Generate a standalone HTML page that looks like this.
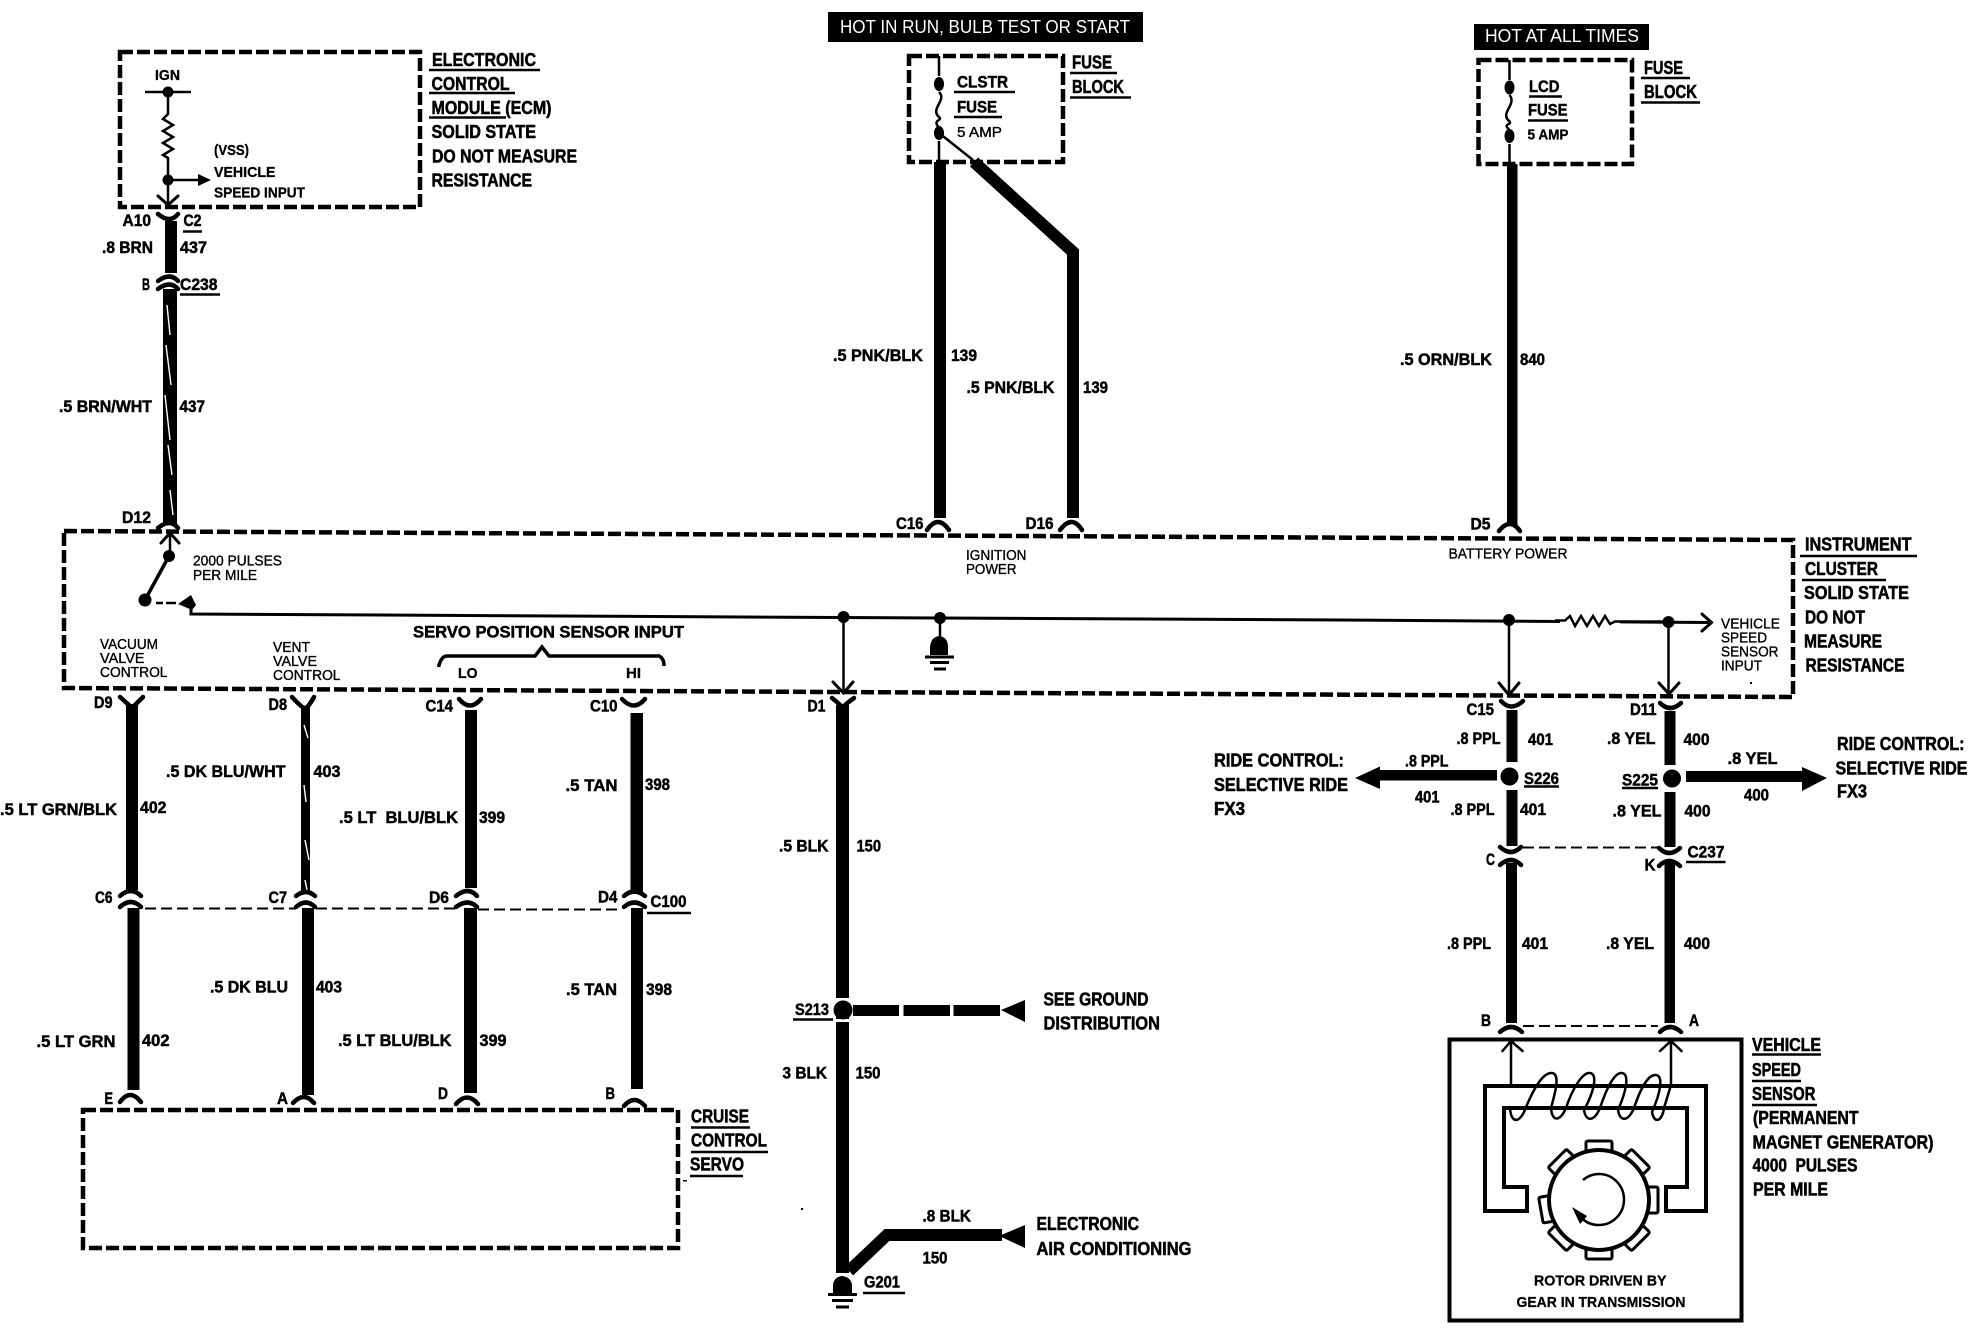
<!DOCTYPE html>
<html>
<head>
<meta charset="utf-8">
<title>Wiring diagram</title>
<style>
html,body{margin:0;padding:0;background:#fff;width:1970px;height:1328px;overflow:hidden}
svg{display:block}
text{font-family:"Liberation Sans",sans-serif;fill:#000}
.t{font-weight:bold;font-size:18.5px;stroke:#000;stroke-width:.55}
.w{font-weight:bold;font-size:17px;stroke:#000;stroke-width:.5}
.s{font-weight:bold;font-size:15px;stroke:#000;stroke-width:.3}
.n{font-size:14.5px;stroke:#000;stroke-width:.35}
.h{font-size:18px;fill:#fff}
.l{fill:none;stroke:#000;stroke-width:2.5}
.c{fill:none;stroke:#000;stroke-width:4.5;stroke-linecap:round}
.u{fill:none;stroke:#000;stroke-width:2.5}
.d{fill:none;stroke:#000;stroke-width:4.5;stroke-dasharray:13 4}
.e{fill:none;stroke:#000;stroke-width:2;stroke-dasharray:11 5}
.k{fill:#000}
.g{fill:none;stroke:#fff;stroke-width:1.4}
</style>
</head>
<body>
<svg xmlns="http://www.w3.org/2000/svg" width="1970" height="1328" viewBox="0 0 1970 1328">
<rect width="1970" height="1328" fill="#fff"/>

<!-- dashed boxes -->
<rect class="d" x="120" y="52" width="300" height="155"/>
<path class="d" d="M64 531 L1793 540 L1793 697 L64 688 Z"/>
<rect class="d" x="909" y="56" width="154" height="106"/>
<rect class="d" x="1478.500" y="60" width="153.500" height="104"/>
<rect class="d" x="83" y="1110" width="595" height="138"/>

<!-- black header boxes -->
<rect class="k" x="828" y="12" width="315" height="30"/>
<text class="h" x="840" y="33" textLength="290" lengthAdjust="spacingAndGlyphs">HOT IN RUN, BULB TEST OR START</text>
<rect class="k" x="1474" y="24" width="175" height="26"/>
<text class="h" x="1485" y="42" textLength="154" lengthAdjust="spacingAndGlyphs">HOT AT ALL TIMES</text>

<!-- ECM internals -->
<path class="l" d="M145 92H191M168 92V114L163 119L173 125L163 131L173 137L163 143L173 149L163 155L168 158V205"/>
<circle class="k" cx="168" cy="92" r="5.500"/>
<circle class="k" cx="168" cy="180" r="5.500"/>
<path class="l" d="M168 180H200"/>
<path class="k" d="M198 174L211 180L198 186Z"/>
<path class="c" style="stroke-width:3" d="M158 196L168 205L178 196"/>

<!-- ECM wire -->
<path class="c" d="M158 214Q170 224 178 214"/>
<rect class="k" x="165" y="221" width="12" height="52"/>
<path class="c" d="M158 281Q170 272 178 281M158 289Q170 280 178 289"/>
<rect class="k" x="163" y="289" width="14" height="236"/>
<path class="g" d="M167 305L170 335M166 345L171 385M165 395L170 440M168 445L172 475M170 490L173 515"/>
<path class="c" d="M158 528Q170 518 178 528"/>
<path class="c" style="stroke-width:3" d="M161 543L170 533L179 543"/>

<!-- switch -->
<path class="l" d="M170 533V556"/>
<circle class="k" cx="169" cy="556" r="6"/>
<path d="M169 556L145 600" stroke="#000" stroke-width="3.500"/>
<circle class="k" cx="145" cy="600" r="6.500"/>
<path d="M156 603H163M166 603H176" stroke="#000" stroke-width="2.500"/>
<path class="k" d="M178 604L191 595L196 605L192 610Z"/>
<path d="M191 604V614L840 617.500L1340 620L1712 622.500" fill="none" stroke="#000" stroke-width="3"/>

<!-- cluster internals -->
<circle class="k" cx="843.500" cy="617" r="6"/>
<path class="l" d="M843.500 617V692"/>
<path class="c" style="stroke-width:3" d="M833 682L843.500 693L853 682"/>
<circle class="k" cx="940" cy="618" r="6"/>
<path class="l" d="M940 618V640"/>
<path class="k" d="M930 655V647Q931 637 939 636Q948 637 948 647V655Z"/>
<path d="M925 657H954M930 662.500H949M934 669H946" stroke="#000" stroke-width="3"/>
<circle class="k" cx="1509" cy="620" r="6"/>
<path class="l" d="M1509 620V694"/>
<path class="c" style="stroke-width:3" d="M1499 683L1509 695L1519 683"/>
<path fill="#fff" d="M1560 612h60v16h-60z"/>
<path class="l" d="M1555 620.500H1565L1570 616L1575 626L1581 616L1587 626L1593 616L1599 626L1605 616L1610 624L1615 621.500H1668"/>
<circle class="k" cx="1668.500" cy="622" r="6"/>
<path class="l" d="M1668.500 622V693"/>
<path class="c" style="stroke-width:3" d="M1659 683L1669 694L1679 683"/>
<path class="c" style="stroke-width:3" d="M1702 614L1711.500 622.500L1702 631"/>

<!-- brace -->
<path d="M438.500 667Q441 657 446 656H535L542 647L549 656H659Q664 658 664 666" fill="none" stroke="#000" stroke-width="3.500"/>

<!-- fuses -->
<path class="l" d="M939 56V76M939 92C947 100 931 108 938 116C945 122 931 118 939 128M939 141V162"/>
<ellipse class="k" cx="939" cy="84" rx="5" ry="7"/>
<ellipse class="k" cx="939" cy="133" rx="5" ry="7"/>
<path class="l" d="M939 133L973 160"/>
<rect class="k" x="934" y="162" width="12" height="356"/>
<path d="M974 162L1073 252V518" fill="none" stroke="#000" stroke-width="12"/>
<path class="c" d="M927 530Q938 514 949 530M1060 530Q1072 514 1082 530"/>

<path class="l" d="M1509.500 60V80M1509.500 95C1517 104 1501 112 1508 120C1515 126 1501 122 1509.500 130M1509.500 144V164"/>
<ellipse class="k" cx="1509.500" cy="87.500" rx="5" ry="7"/>
<ellipse class="k" cx="1509.500" cy="136" rx="5" ry="7"/>
<rect class="k" x="1507" y="164" width="10.500" height="361"/>
<path class="c" d="M1499 531Q1510 517 1520 531"/>

<!-- left lower wires -->
<path class="c" d="M120 697Q130 706 132 708Q134 706 143 697"/><rect class="k" x="126" y="704" width="12" height="186"/>
<path class="c" d="M292 697Q302 708 305 708Q308 708 314 697"/><rect class="k" x="301" y="706" width="9" height="186"/>
<path class="g" d="M304 725L308 738M304 785L306 802M305 840L309 860M305 880L309 900"/>
<path class="c" d="M459 699Q470 712 481 699"/><rect class="k" x="465" y="710" width="12" height="178"/>
<path class="c" d="M622 699Q634 712 645 699"/><rect class="k" x="630.500" y="713" width="12.500" height="180"/>

<path class="c" d="M120 896Q131 886 141 896M120 907Q131 897 141 907"/>
<path class="c" d="M296 896Q306 888 315 896M296 907Q306 898 315 907"/>
<path class="c" d="M456 896Q468 886 477 896M456 907Q468 898 477 907"/>
<path class="c" d="M624 896Q634 887 645 896M624 907Q634 898 645 907"/>
<path class="e" d="M145 908.500H296M316 908.500H456M478 909.500H622"/>

<rect class="k" x="127.500" y="908" width="12" height="182"/>
<rect class="k" x="302" y="908" width="12" height="187"/>
<rect class="k" x="464" y="908" width="13" height="185"/>
<rect class="k" x="631" y="908" width="12" height="181"/>

<path class="c" d="M120 1102Q130 1088 141 1102M293 1103Q304 1091 314 1103M456 1104Q467 1091 478 1104M624 1106Q634 1094 645 1106"/>

<!-- D1 wire -->
<path class="c" d="M832 698Q842 706 842.500 708Q843 706 854 698"/>
<rect class="k" x="836" y="705" width="13" height="568"/>
<rect x="830" y="998" width="25" height="6" fill="#fff"/>
<rect x="830" y="1019" width="25" height="3" fill="#fff"/>
<circle class="k" cx="843" cy="1010" r="9.500"/>
<rect class="k" x="853" y="1005" width="46" height="11"/>
<rect class="k" x="903.500" y="1005" width="46.500" height="11"/>
<rect class="k" x="953.500" y="1005" width="46.500" height="11"/>
<path class="k" d="M1001 1010L1025 1000V1022Z"/>
<path d="M849 1271L887 1235H1002" fill="none" stroke="#000" stroke-width="12"/>
<path class="k" d="M999 1236L1025 1225V1248Z"/>
<path class="k" d="M833 1293V1285Q834 1277 842 1276Q851 1277 852 1285V1293Z"/>
<path d="M828 1294.500H857M832 1300.500H853M836 1307H849" stroke="#000" stroke-width="3"/>

<!-- right wires -->
<path class="c" d="M1501 701Q1511 712 1523 701"/>
<rect class="k" x="1506.500" y="710" width="11" height="52"/>
<path class="c" d="M1660 703Q1670 713 1681 703"/>
<rect class="k" x="1664.500" y="711" width="11" height="54"/>
<circle class="k" cx="1509.500" cy="776.500" r="9"/>
<circle class="k" cx="1672" cy="778.500" r="9"/>
<rect class="k" x="1380" y="770" width="117" height="10.500"/>
<path class="k" d="M1355 778L1380 766.500V789Z"/>
<rect class="k" x="1686" y="771" width="116" height="11"/>
<path class="k" d="M1802 767L1827 778L1802 791Z"/>
<rect class="k" x="1506.500" y="790" width="11" height="56"/>
<rect class="k" x="1664.500" y="792" width="11" height="55"/>
<path class="c" d="M1500 847Q1511 857 1521 847M1500 865Q1511 855 1521 865"/>
<path class="c" d="M1659 848Q1669 858 1680 848M1659 866Q1669 856 1680 866"/>
<path class="e" d="M1523 847.500H1657"/>
<rect class="k" x="1506" y="863" width="11" height="160"/>
<rect class="k" x="1664.500" y="863" width="10.500" height="160"/>
<path class="c" d="M1500 1032Q1511 1022 1522 1032M1660 1032Q1670 1022 1681 1032"/>
<path class="e" d="M1523 1026H1658"/>

<!-- sensor -->
<rect x="1449.500" y="1039.500" width="292" height="281" fill="none" stroke="#000" stroke-width="4"/>
<path class="l" d="M1511 1086V1041M1671 1086V1041"/>
<path class="c" style="stroke-width:2.500" d="M1502.500 1051L1511 1041L1522.500 1051M1660 1051L1671 1041L1681.500 1051"/>
<path d="M1504 1187H1527V1211H1485V1086H1706V1211H1666V1187H1687V1108H1504Z" fill="none" stroke="#000" stroke-width="4"/>
<path class="l" d="M1510 1108C1511 1122 1518 1124 1524 1112C1532 1092 1542 1072 1552 1073C1560 1074 1556 1090 1551 1108C1552 1122 1560 1122 1566 1108C1572 1090 1582 1072 1590 1073C1598 1074 1594 1092 1584 1110C1586 1122 1594 1122 1600 1108C1606 1090 1614 1072 1622 1073C1630 1074 1626 1092 1618 1110C1620 1122 1628 1122 1634 1108C1640 1090 1648 1074 1656 1075C1664 1076 1660 1094 1652 1112C1654 1124 1662 1122 1664 1108L1671 1085"/>
<g fill="none" stroke="#000" stroke-width="3">
<circle cx="1599" cy="1200" r="50" stroke-width="4"/>
<path d="M1586 1150V1143Q1586 1141 1588 1141H1610Q1612 1141 1612 1143V1150"/>
<path d="M1586 1150V1143Q1586 1141 1588 1141H1610Q1612 1141 1612 1143V1150" transform="rotate(45 1599 1200)"/>
<path d="M1586 1150V1143Q1586 1141 1588 1141H1610Q1612 1141 1612 1143V1150" transform="rotate(90 1599 1200)"/>
<path d="M1586 1150V1143Q1586 1141 1588 1141H1610Q1612 1141 1612 1143V1150" transform="rotate(135 1599 1200)"/>
<path d="M1586 1150V1143Q1586 1141 1588 1141H1610Q1612 1141 1612 1143V1150" transform="rotate(180 1599 1200)"/>
<path d="M1586 1150V1143Q1586 1141 1588 1141H1610Q1612 1141 1612 1143V1150" transform="rotate(225 1599 1200)"/>
<path d="M1586 1150V1143Q1586 1141 1588 1141H1610Q1612 1141 1612 1143V1150" transform="rotate(260 1599 1200)"/>
<path d="M1586 1150V1143Q1586 1141 1588 1141H1610Q1612 1141 1612 1143V1150" transform="rotate(315 1599 1200)"/>
<path stroke-width="2.500" d="M1583 1180Q1590 1174 1599 1174A25 25.500 0 1 1 1599 1225Q1588 1225 1582 1218"/>
</g>
<path class="k" d="M1572 1207L1587 1216L1580 1224Z"/>

<!-- specks -->
<rect class="k" x="801" y="1208" width="2" height="2"/>
<rect class="k" x="1750" y="682" width="2" height="2"/>
<rect class="k" x="683" y="1180" width="4" height="1.500"/>

<!-- ECM labels -->
<text class="t" x="432" y="66" textLength="104" lengthAdjust="spacingAndGlyphs">ELECTRONIC</text>
<path class="u" d="M429 70H540"/>
<text class="t" x="431.500" y="90" textLength="78" lengthAdjust="spacingAndGlyphs">CONTROL</text>
<path class="u" d="M429 93H515"/>
<text class="t" x="431.500" y="114" textLength="120" lengthAdjust="spacingAndGlyphs">MODULE (ECM)</text>
<path class="u" d="M429 117.500H506"/>
<text class="t" x="431.500" y="138" textLength="104.500" lengthAdjust="spacingAndGlyphs">SOLID STATE</text>
<text class="t" x="432" y="162.500" textLength="145" lengthAdjust="spacingAndGlyphs">DO NOT MEASURE</text>
<text class="t" x="431.500" y="186.500" textLength="100.500" lengthAdjust="spacingAndGlyphs">RESISTANCE</text>
<text class="s" x="155" y="80" textLength="25" lengthAdjust="spacingAndGlyphs">IGN</text>
<text class="s" x="214" y="155" textLength="35" lengthAdjust="spacingAndGlyphs">(VSS)</text>
<text class="s" x="214" y="177" textLength="61.500" lengthAdjust="spacingAndGlyphs">VEHICLE</text>
<text class="s" x="214" y="197.500" textLength="91" lengthAdjust="spacingAndGlyphs">SPEED INPUT</text>
<text class="w" x="122.500" y="226" textLength="28.500" lengthAdjust="spacingAndGlyphs">A10</text>
<text class="w" x="183.500" y="226" textLength="18" lengthAdjust="spacingAndGlyphs">C2</text>
<path class="u" d="M183 231.500H202"/>
<text class="w" x="102" y="253" textLength="51" lengthAdjust="spacingAndGlyphs">.8 BRN</text>
<text class="w" x="180" y="253" textLength="27" lengthAdjust="spacingAndGlyphs">437</text>
<text class="w" x="142" y="290" textLength="8" lengthAdjust="spacingAndGlyphs">B</text>
<text class="w" x="180" y="290" textLength="37.500" lengthAdjust="spacingAndGlyphs">C238</text>
<path class="u" d="M180 294.500H220"/>
<text class="w" x="59" y="412" textLength="93" lengthAdjust="spacingAndGlyphs">.5 BRN/WHT</text>
<text class="w" x="179.500" y="412" textLength="25.500" lengthAdjust="spacingAndGlyphs">437</text>
<text class="w" x="122" y="523" textLength="29" lengthAdjust="spacingAndGlyphs">D12</text>

<!-- fuse labels -->
<text class="w" x="957" y="87.500" textLength="51" lengthAdjust="spacingAndGlyphs">CLSTR</text>
<path class="u" d="M954 92H1015"/>
<text class="w" x="957" y="112.500" textLength="40" lengthAdjust="spacingAndGlyphs">FUSE</text>
<path class="u" d="M954 117H1002"/>
<text class="n" x="957" y="137" textLength="45" lengthAdjust="spacingAndGlyphs">5 AMP</text>
<text class="t" x="1072" y="68.500" textLength="40" lengthAdjust="spacingAndGlyphs">FUSE</text>
<path class="u" d="M1070 73H1117"/>
<text class="t" x="1072" y="93" textLength="52" lengthAdjust="spacingAndGlyphs">BLOCK</text>
<path class="u" d="M1070 97.500H1131"/>
<text class="w" x="833" y="361" textLength="90" lengthAdjust="spacingAndGlyphs">.5 PNK/BLK</text>
<text class="w" x="951" y="361" textLength="26" lengthAdjust="spacingAndGlyphs">139</text>
<text class="w" x="966.500" y="393" textLength="88" lengthAdjust="spacingAndGlyphs">.5 PNK/BLK</text>
<text class="w" x="1083" y="393" textLength="25" lengthAdjust="spacingAndGlyphs">139</text>
<text class="w" x="896" y="529" textLength="27.500" lengthAdjust="spacingAndGlyphs">C16</text>
<text class="w" x="1025.500" y="529" textLength="28" lengthAdjust="spacingAndGlyphs">D16</text>
<text class="w" x="1470.500" y="529.500" textLength="20" lengthAdjust="spacingAndGlyphs">D5</text>
<text class="w" x="1529" y="92" textLength="30.500" lengthAdjust="spacingAndGlyphs">LCD</text>
<path class="u" d="M1529 96.500H1562"/>
<text class="w" x="1528" y="115.500" textLength="39.500" lengthAdjust="spacingAndGlyphs">FUSE</text>
<path class="u" d="M1528 120.500H1568"/>
<text class="s" x="1527.500" y="139.500" textLength="41" lengthAdjust="spacingAndGlyphs">5 AMP</text>
<text class="t" x="1644" y="74" textLength="39" lengthAdjust="spacingAndGlyphs">FUSE</text>
<path class="u" d="M1641 78H1690"/>
<text class="t" x="1644" y="98" textLength="53" lengthAdjust="spacingAndGlyphs">BLOCK</text>
<path class="u" d="M1641 102.500H1700"/>
<text class="w" x="1400" y="365" textLength="92" lengthAdjust="spacingAndGlyphs">.5 ORN/BLK</text>
<text class="w" x="1520" y="365" textLength="25" lengthAdjust="spacingAndGlyphs">840</text>

<!-- cluster labels -->
<text class="n" x="193" y="565.500" textLength="89" lengthAdjust="spacingAndGlyphs">2000 PULSES</text>
<text class="n" x="193" y="580" textLength="64" lengthAdjust="spacingAndGlyphs">PER MILE</text>
<text class="n" x="100" y="649" textLength="58" lengthAdjust="spacingAndGlyphs">VACUUM</text>
<text class="n" x="100" y="663" textLength="44.500" lengthAdjust="spacingAndGlyphs">VALVE</text>
<text class="n" x="100" y="677" textLength="67.500" lengthAdjust="spacingAndGlyphs">CONTROL</text>
<text class="n" x="273" y="652" textLength="37" lengthAdjust="spacingAndGlyphs">VENT</text>
<text class="n" x="273" y="666" textLength="44" lengthAdjust="spacingAndGlyphs">VALVE</text>
<text class="n" x="273" y="680" textLength="67.500" lengthAdjust="spacingAndGlyphs">CONTROL</text>
<text class="w" x="413" y="637.500" textLength="271" lengthAdjust="spacingAndGlyphs">SERVO POSITION SENSOR INPUT</text>
<text class="s" x="458" y="678" textLength="19.500" lengthAdjust="spacingAndGlyphs">LO</text>
<text class="s" x="626" y="678" textLength="15" lengthAdjust="spacingAndGlyphs">HI</text>
<text class="n" x="966" y="560" textLength="60.500" lengthAdjust="spacingAndGlyphs">IGNITION</text>
<text class="n" x="966" y="574" textLength="50.500" lengthAdjust="spacingAndGlyphs">POWER</text>
<text class="n" x="1448.500" y="558.500" textLength="119" lengthAdjust="spacingAndGlyphs">BATTERY POWER</text>
<text class="n" x="1721" y="628.500" textLength="59" lengthAdjust="spacingAndGlyphs">VEHICLE</text>
<text class="n" x="1721" y="642.500" textLength="46" lengthAdjust="spacingAndGlyphs">SPEED</text>
<text class="n" x="1721" y="656.500" textLength="57.500" lengthAdjust="spacingAndGlyphs">SENSOR</text>
<text class="n" x="1721" y="670.500" textLength="41" lengthAdjust="spacingAndGlyphs">INPUT</text>
<text class="t" x="1805" y="550.500" textLength="106.500" lengthAdjust="spacingAndGlyphs">INSTRUMENT</text>
<path class="u" d="M1800 556H1917"/>
<text class="t" x="1805" y="575" textLength="73" lengthAdjust="spacingAndGlyphs">CLUSTER</text>
<path class="u" d="M1802 580H1886"/>
<text class="t" x="1804" y="599" textLength="105" lengthAdjust="spacingAndGlyphs">SOLID STATE</text>
<text class="t" x="1805" y="623.500" textLength="60" lengthAdjust="spacingAndGlyphs">DO NOT</text>
<text class="t" x="1804" y="647.500" textLength="78" lengthAdjust="spacingAndGlyphs">MEASURE</text>
<text class="t" x="1805.500" y="671.500" textLength="99" lengthAdjust="spacingAndGlyphs">RESISTANCE</text>

<!-- connectors labels -->
<text class="w" x="94" y="708" textLength="18.500" lengthAdjust="spacingAndGlyphs">D9</text>
<text class="w" x="268.500" y="710" textLength="18.500" lengthAdjust="spacingAndGlyphs">D8</text>
<text class="w" x="425.500" y="711.500" textLength="27.500" lengthAdjust="spacingAndGlyphs">C14</text>
<text class="w" x="590" y="711.500" textLength="27.500" lengthAdjust="spacingAndGlyphs">C10</text>
<text class="w" x="807.500" y="711.500" textLength="18" lengthAdjust="spacingAndGlyphs">D1</text>
<text class="w" x="1466.500" y="715" textLength="27.500" lengthAdjust="spacingAndGlyphs">C15</text>
<text class="w" x="1630" y="715" textLength="26.500" lengthAdjust="spacingAndGlyphs">D11</text>
<text class="w" x="95" y="903" textLength="17.500" lengthAdjust="spacingAndGlyphs">C6</text>
<text class="w" x="268.500" y="903" textLength="18.500" lengthAdjust="spacingAndGlyphs">C7</text>
<text class="w" x="429" y="903" textLength="20" lengthAdjust="spacingAndGlyphs">D6</text>
<text class="w" x="598" y="902.500" textLength="19.500" lengthAdjust="spacingAndGlyphs">D4</text>
<text class="w" x="650.500" y="907" textLength="36" lengthAdjust="spacingAndGlyphs">C100</text>
<path class="u" d="M647 913H691"/>

<!-- upper wire labels -->
<text class="w" x="0" y="815" textLength="117" lengthAdjust="spacingAndGlyphs">.5 LT GRN/BLK</text>
<text class="w" x="140" y="813" textLength="26.500" lengthAdjust="spacingAndGlyphs">402</text>
<text class="w" x="166" y="777" textLength="119.500" lengthAdjust="spacingAndGlyphs">.5 DK BLU/WHT</text>
<text class="w" x="313.500" y="777" textLength="27" lengthAdjust="spacingAndGlyphs">403</text>
<text class="w" x="339" y="823" textLength="119" lengthAdjust="spacingAndGlyphs">.5 LT&#160;&#160;BLU/BLK</text>
<text class="w" x="479" y="823" textLength="26" lengthAdjust="spacingAndGlyphs">399</text>
<text class="w" x="565.500" y="791" textLength="52" lengthAdjust="spacingAndGlyphs">.5 TAN</text>
<text class="w" x="645" y="790" textLength="25" lengthAdjust="spacingAndGlyphs">398</text>

<!-- lower wire labels -->
<text class="w" x="36.500" y="1047" textLength="79" lengthAdjust="spacingAndGlyphs">.5 LT GRN</text>
<text class="w" x="142" y="1046" textLength="27.500" lengthAdjust="spacingAndGlyphs">402</text>
<text class="w" x="210" y="992.500" textLength="78" lengthAdjust="spacingAndGlyphs">.5 DK BLU</text>
<text class="w" x="316" y="992.500" textLength="26" lengthAdjust="spacingAndGlyphs">403</text>
<text class="w" x="338" y="1046" textLength="113.500" lengthAdjust="spacingAndGlyphs">.5 LT BLU/BLK</text>
<text class="w" x="479.500" y="1046" textLength="27" lengthAdjust="spacingAndGlyphs">399</text>
<text class="w" x="566" y="995" textLength="51" lengthAdjust="spacingAndGlyphs">.5 TAN</text>
<text class="w" x="646" y="995" textLength="26" lengthAdjust="spacingAndGlyphs">398</text>
<text class="w" x="104.500" y="1104" textLength="8.500" lengthAdjust="spacingAndGlyphs">E</text>
<text class="w" x="277" y="1104" textLength="11" lengthAdjust="spacingAndGlyphs">A</text>
<text class="w" x="438" y="1099" textLength="10" lengthAdjust="spacingAndGlyphs">D</text>
<text class="w" x="605.500" y="1099" textLength="9.500" lengthAdjust="spacingAndGlyphs">B</text>
<text class="t" x="691" y="1122.500" textLength="58" lengthAdjust="spacingAndGlyphs">CRUISE</text>
<path class="u" d="M691 1127.500H750"/>
<text class="t" x="691" y="1146.500" textLength="76" lengthAdjust="spacingAndGlyphs">CONTROL</text>
<path class="u" d="M691 1152H768"/>
<text class="t" x="690" y="1170.500" textLength="54" lengthAdjust="spacingAndGlyphs">SERVO</text>
<path class="u" d="M690 1176H743"/>

<!-- center labels -->
<text class="w" x="779" y="851.500" textLength="49.500" lengthAdjust="spacingAndGlyphs">.5 BLK</text>
<text class="w" x="856.500" y="851.500" textLength="24.500" lengthAdjust="spacingAndGlyphs">150</text>
<text class="w" x="795" y="1015" textLength="34" lengthAdjust="spacingAndGlyphs">S213</text>
<path class="u" d="M793 1019.500H833"/>
<text class="t" x="1043.500" y="1005.500" textLength="105" lengthAdjust="spacingAndGlyphs">SEE GROUND</text>
<text class="t" x="1043.500" y="1029.500" textLength="116.500" lengthAdjust="spacingAndGlyphs">DISTRIBUTION</text>
<text class="w" x="782.500" y="1078.500" textLength="44.500" lengthAdjust="spacingAndGlyphs">3 BLK</text>
<text class="w" x="855.500" y="1078.500" textLength="25" lengthAdjust="spacingAndGlyphs">150</text>
<text class="w" x="922.500" y="1221.500" textLength="48.500" lengthAdjust="spacingAndGlyphs">.8 BLK</text>
<text class="w" x="922.500" y="1263.500" textLength="25" lengthAdjust="spacingAndGlyphs">150</text>
<text class="t" x="1036.500" y="1230" textLength="102.500" lengthAdjust="spacingAndGlyphs">ELECTRONIC</text>
<text class="t" x="1036.500" y="1255" textLength="155" lengthAdjust="spacingAndGlyphs">AIR CONDITIONING</text>
<text class="w" x="864" y="1287.500" textLength="36" lengthAdjust="spacingAndGlyphs">G201</text>
<path class="u" d="M863 1293H905"/>

<!-- right labels -->
<text class="t" x="1214" y="766.500" textLength="130" lengthAdjust="spacingAndGlyphs">RIDE CONTROL:</text>
<text class="t" x="1214" y="791" textLength="134" lengthAdjust="spacingAndGlyphs">SELECTIVE RIDE</text>
<text class="t" x="1214" y="815" textLength="31" lengthAdjust="spacingAndGlyphs">FX3</text>
<text class="w" x="1456.500" y="744" textLength="44" lengthAdjust="spacingAndGlyphs">.8 PPL</text>
<text class="w" x="1528" y="745" textLength="25" lengthAdjust="spacingAndGlyphs">401</text>
<text class="w" x="1607" y="744" textLength="48.500" lengthAdjust="spacingAndGlyphs">.8 YEL</text>
<text class="w" x="1683.500" y="745" textLength="26" lengthAdjust="spacingAndGlyphs">400</text>
<text class="w" x="1405" y="766.500" textLength="43.500" lengthAdjust="spacingAndGlyphs">.8 PPL</text>
<text class="w" x="1415" y="802.500" textLength="24.500" lengthAdjust="spacingAndGlyphs">401</text>
<text class="w" x="1524" y="784" textLength="35" lengthAdjust="spacingAndGlyphs">S226</text>
<path class="u" d="M1524 786.500H1559"/>
<text class="w" x="1622" y="785.500" textLength="36" lengthAdjust="spacingAndGlyphs">S225</text>
<path class="u" d="M1622 788H1658"/>
<text class="w" x="1450.500" y="815" textLength="44" lengthAdjust="spacingAndGlyphs">.8 PPL</text>
<text class="w" x="1520" y="815" textLength="26" lengthAdjust="spacingAndGlyphs">401</text>
<text class="w" x="1612.500" y="816.500" textLength="49" lengthAdjust="spacingAndGlyphs">.8 YEL</text>
<text class="w" x="1684.500" y="816.500" textLength="26" lengthAdjust="spacingAndGlyphs">400</text>
<text class="w" x="1727.500" y="764" textLength="50" lengthAdjust="spacingAndGlyphs">.8 YEL</text>
<text class="w" x="1744" y="800.500" textLength="25" lengthAdjust="spacingAndGlyphs">400</text>
<text class="t" x="1837" y="750" textLength="127.500" lengthAdjust="spacingAndGlyphs">RIDE CONTROL:</text>
<text class="t" x="1835.500" y="774.500" textLength="132" lengthAdjust="spacingAndGlyphs">SELECTIVE RIDE</text>
<text class="t" x="1837" y="797.500" textLength="30" lengthAdjust="spacingAndGlyphs">FX3</text>
<text class="w" x="1486" y="865" textLength="9" lengthAdjust="spacingAndGlyphs">C</text>
<text class="w" x="1644.500" y="870.500" textLength="11" lengthAdjust="spacingAndGlyphs">K</text>
<text class="w" x="1687.500" y="857.500" textLength="37" lengthAdjust="spacingAndGlyphs">C237</text>
<path class="u" d="M1686 862H1725.500"/>
<text class="w" x="1447" y="949" textLength="44" lengthAdjust="spacingAndGlyphs">.8 PPL</text>
<text class="w" x="1522" y="949" textLength="26" lengthAdjust="spacingAndGlyphs">401</text>
<text class="w" x="1606" y="949" textLength="48" lengthAdjust="spacingAndGlyphs">.8 YEL</text>
<text class="w" x="1684" y="949" textLength="26" lengthAdjust="spacingAndGlyphs">400</text>
<text class="w" x="1481" y="1026" textLength="10" lengthAdjust="spacingAndGlyphs">B</text>
<text class="w" x="1689" y="1026" textLength="10" lengthAdjust="spacingAndGlyphs">A</text>
<text class="t" x="1752" y="1051" textLength="69" lengthAdjust="spacingAndGlyphs">VEHICLE</text>
<path class="u" d="M1752 1054.500H1821"/>
<text class="t" x="1752" y="1076" textLength="49" lengthAdjust="spacingAndGlyphs">SPEED</text>
<path class="u" d="M1752 1081H1801"/>
<text class="t" x="1752" y="1100" textLength="63.500" lengthAdjust="spacingAndGlyphs">SENSOR</text>
<path class="u" d="M1752 1105H1817"/>
<text class="t" x="1753" y="1124" textLength="105.500" lengthAdjust="spacingAndGlyphs">(PERMANENT</text>
<text class="t" x="1752.500" y="1148.500" textLength="181" lengthAdjust="spacingAndGlyphs">MAGNET GENERATOR)</text>
<text class="t" x="1752.500" y="1171.500" textLength="105" lengthAdjust="spacingAndGlyphs">4000&#160;&#160;PULSES</text>
<text class="t" x="1753" y="1195.500" textLength="75" lengthAdjust="spacingAndGlyphs">PER MILE</text>
<text class="s" x="1534" y="1285.500" textLength="132.500" lengthAdjust="spacingAndGlyphs">ROTOR DRIVEN BY</text>
<text class="s" x="1516.500" y="1307" textLength="169" lengthAdjust="spacingAndGlyphs">GEAR IN TRANSMISSION</text>
</svg>
</body>
</html>
